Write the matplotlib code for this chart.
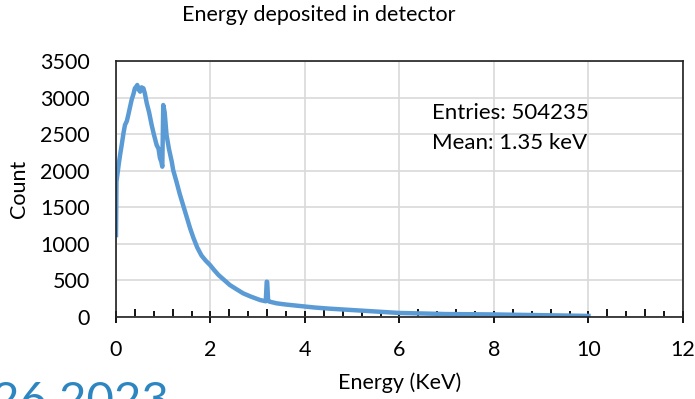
import matplotlib
matplotlib.use("Agg")
import matplotlib.pyplot as plt
from matplotlib.ticker import MultipleLocator

plt.rcParams["font.family"] = ["Lato", "DejaVu Sans"]

# spectrum (energy in keV, counts)
energy = [0.0, 0.01, 0.03, 0.06, 0.09, 0.12, 0.16, 0.19, 0.23, 0.26, 0.30, 0.33, 0.37,
          0.40, 0.43, 0.45, 0.48, 0.51, 0.54, 0.58, 0.61, 0.65, 0.70, 0.755, 0.80,
          0.86, 0.90, 0.93, 0.96, 0.98, 1.00, 1.03, 1.07, 1.12, 1.18, 1.21, 1.28,
          1.35, 1.42, 1.50, 1.57, 1.64, 1.72, 1.81, 1.90, 1.99, 2.08, 2.17, 2.30,
          2.41, 2.55, 2.69, 2.85, 3.05, 3.17, 3.19, 3.20, 3.22, 3.25, 3.40, 3.60,
          3.90, 4.20, 4.50, 5.00, 5.50, 6.00, 6.50, 7.00, 7.50, 8.00, 8.50, 9.00,
          9.50, 10.0]
counts = [1120, 1850, 1950, 2100, 2230, 2350, 2520, 2625, 2680, 2762, 2880, 2967, 3050,
          3127, 3150, 3172, 3110, 3081, 3140, 3127, 3060, 2926, 2800, 2625, 2500,
          2352, 2300, 2174, 2120, 2055, 2898, 2800, 2488, 2300, 2124, 2010, 1850,
          1680, 1530, 1360, 1210, 1080, 950, 840, 770, 711, 640, 574, 500,
          437, 380, 324, 280, 232, 215, 483, 480, 220, 210, 187, 170,
          150, 130, 115, 95, 75, 55, 48, 40, 38, 35, 30, 25,
          20, 15]

entries = 504235
mean_kev = 1.35

fig = plt.figure(figsize=(6.95, 3.99), dpi=100)
ax = fig.add_axes([0.1669, 0.2055, 0.8158, 0.6416])

ax.plot(energy, counts, color="#5B9BD5", lw=3.2, solid_joinstyle="round")

ax.set_xlim(0, 12)
ax.set_ylim(0, 3500)
ax.xaxis.set_major_locator(MultipleLocator(2))
ax.xaxis.set_minor_locator(MultipleLocator(0.4))
ax.yaxis.set_major_locator(MultipleLocator(500))
ax.grid(True, which="major", color="#d9d9d9", lw=1.2)
ax.set_axisbelow(True)
for side in ax.spines.values():
    side.set_color("#202020")
    side.set_linewidth(1.2)

ax.tick_params(axis="x", which="major", direction="inout", length=9, width=1.3,
               labelsize=15.5, pad=12)
ax.tick_params(axis="x", which="minor", direction="in", length=4, width=1.3)
ax.tick_params(axis="y", which="major", length=0, labelsize=15.5, pad=19)
for i, t in enumerate(ax.xaxis.get_minor_ticks()):
    t.tick1line.set_markersize(6 if i % 2 == 1 else 4)

ax.set_xlabel("Energy (KeV)", fontsize=15.5, labelpad=9)
ax.set_ylabel("Count", fontsize=15.5, labelpad=8)

ax.text(6.69, 2789, f"Entries: {entries}", fontsize=16, va="center", ha="left")
ax.text(6.69, 2379, f"Mean: {mean_kev} keV", fontsize=16, va="center", ha="left")

fig.text(0.459, 0.962, "Energy deposited in detector", fontsize=15.5, ha="center", va="center")
fig.text(-0.012, -0.04, "26 2023", fontsize=34, color="#2E86C1", ha="left", va="baseline")

fig.savefig("out.png", dpi=100)
